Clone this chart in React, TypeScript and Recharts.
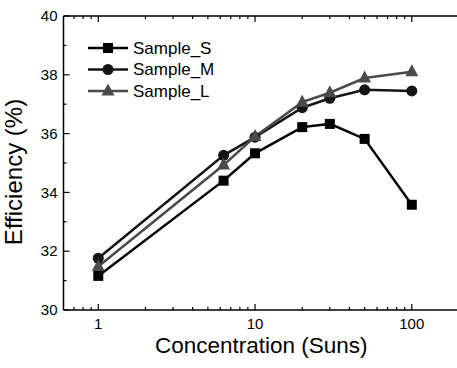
import { Legend, Line, LineChart, XAxis, YAxis } from "recharts"

const concentration = [1, 6.3, 10, 20, 30, 50, 100]
const sampleS = [31.16, 34.4, 35.33, 36.22, 36.33, 35.82, 33.58]
const sampleM = [31.76, 35.26, 35.88, 36.88, 37.2, 37.49, 37.45]
const sampleL = [31.48, 34.93, 35.9, 37.07, 37.39, 37.89, 38.1]

const xMajor = [1, 10, 100]
const xMinor = [0.7, 0.8, 0.9, 2, 3, 4, 5, 6, 7, 8, 9, 20, 30, 40, 50, 60, 70, 80, 90]
const yMajor = [30, 32, 34, 36, 38, 40]
const yMinor = [31, 33, 35, 37, 39]

const font = "Arial, 'Liberation Sans', sans-serif"

const series = [
  { key: "S", name: "Sample_S", color: "#000000", shape: "square" },
  { key: "M", name: "Sample_M", color: "#151515", shape: "circle" },
  { key: "L", name: "Sample_L", color: "#4a4a4a", shape: "triangle" },
]

const data = concentration.map((c, i) => ({ x: c, S: sampleS[i], M: sampleM[i], L: sampleL[i] }))

function Marker({ cx, cy, shape, color }: { cx: number; cy: number; shape: string; color: string }) {
  if (shape === "square") return <rect x={cx - 5} y={cy - 5} width={10} height={10} fill={color} />
  if (shape === "circle") return <circle cx={cx} cy={cy} r={5.5} fill={color} />
  return <polygon points={`${cx},${cy - 7.5} ${cx - 6.5},${cy + 4.5} ${cx + 6.5},${cy + 4.5}`} fill={color} />
}

const tickLen = (v: number, major: number[]) => (major.includes(v) ? 6 : 3)

const BottomTick = ({ x, y, payload }: any) => {
  const v = payload.value
  return (
    <g>
      <line x1={x} x2={x} y1={y} y2={y - tickLen(v, xMajor)} stroke="#000" strokeWidth={1.2} />
      {xMajor.includes(v) && (
        <text x={x} y={y + 19} textAnchor="middle" fontSize={15} fontFamily={font} fill="#000">{v}</text>
      )}
    </g>
  )
}

const TopTick = ({ x, y, payload }: any) => (
  <line x1={x} x2={x} y1={y} y2={y + tickLen(payload.value, xMajor)} stroke="#000" strokeWidth={1.2} />
)

const LeftTick = ({ x, y, payload }: any) => {
  const v = payload.value
  return (
    <g>
      <line x1={x} x2={x + tickLen(v, yMajor)} y1={y} y2={y} stroke="#000" strokeWidth={1.2} />
      {yMajor.includes(v) && (
        <text x={x - 6} y={y} dy="0.35em" textAnchor="end" fontSize={15} fontFamily={font} fill="#000">{v}</text>
      )}
    </g>
  )
}

const RightTick = ({ x, y, payload }: any) => (
  <line x1={x} x2={x - tickLen(payload.value, yMajor)} y1={y} y2={y} stroke="#000" strokeWidth={1.2} />
)

const LegendBox = () => (
  <svg width={160} height={70}>
    {series.map((s, i) => {
      const cy = 12 + i * 21.5
      return (
        <g key={s.key}>
          <line x1={4} x2={44} y1={cy} y2={cy} stroke={s.color} strokeWidth={2.5} />
          <Marker cx={24} cy={cy} shape={s.shape} color={s.color} />
          <text x={49} y={cy} dy="0.35em" fontSize={17} fontFamily={font} fill="#000">{s.name}</text>
        </g>
      )
    })}
  </svg>
)

export default function App() {
  return (
    <div style={{ position: "absolute", left: 0, top: 0, width: 457, height: 368, overflow: "hidden", background: "#fff" }}>
      <LineChart width={470} height={368} data={data} margin={{ top: 6, right: 1, bottom: 0, left: 0 }}>
        <XAxis
          xAxisId="b"
          dataKey="x"
          type="number"
          scale="log"
          domain={[0.6, 200]}
          allowDataOverflow
          ticks={[...xMajor, ...xMinor]}
          interval={0}
          height={58}
          tickSize={0}
          tickMargin={0}
          tickLine={false}
          tick={<BottomTick />}
          axisLine={{ stroke: "#000", strokeWidth: 1.5 }}
          label={{ value: "Concentration (Suns)", position: "insideBottom", offset: 15, fontSize: 22.5, fontFamily: font, fill: "#000" }}
        />
        <XAxis
          xAxisId="t"
          orientation="top"
          dataKey="x"
          type="number"
          scale="log"
          domain={[0.6, 200]}
          allowDataOverflow
          ticks={[...xMajor, ...xMinor]}
          interval={0}
          height={10}
          tickSize={0}
          tickMargin={0}
          tickLine={false}
          tick={<TopTick />}
          axisLine={{ stroke: "#000", strokeWidth: 1.5 }}
        />
        <YAxis
          yAxisId="l"
          type="number"
          domain={[30, 40]}
          ticks={[...yMajor, ...yMinor]}
          interval={0}
          width={63.5}
          tickSize={0}
          tickMargin={0}
          tickLine={false}
          tick={<LeftTick />}
          axisLine={{ stroke: "#000", strokeWidth: 1.5 }}
          label={{
            content: ({ viewBox }: any) => (
              <text
                x={viewBox.x + 22}
                y={viewBox.y + viewBox.height / 2 + 9}
                transform={`rotate(-90, ${viewBox.x + 22}, ${viewBox.y + viewBox.height / 2 + 9})`}
                textAnchor="middle"
                fontSize={24}
                fontFamily={font}
                fill="#000"
              >
                Efficiency (%)
              </text>
            ),
          }}
        />
        <YAxis
          yAxisId="r"
          orientation="right"
          type="number"
          domain={[30, 40]}
          ticks={[...yMajor, ...yMinor]}
          interval={0}
          width={10}
          tickSize={0}
          tickMargin={0}
          tickLine={false}
          tick={<RightTick />}
          axisLine={{ stroke: "#000", strokeWidth: 1.5 }}
        />
        <Legend
          layout="vertical"
          align="center"
          verticalAlign="middle"
          content={<LegendBox />}
          wrapperStyle={{ left: 84, top: 36, width: 160 }}
        />
        {series.map((s) => (
          <Line
            key={s.key}
            xAxisId="b"
            yAxisId="l"
            dataKey={s.key}
            name={s.name}
            stroke={s.color}
            strokeWidth={2.5}
            isAnimationActive={false}
            dot={(p: any) => <Marker key={`${s.key}-${p.index}`} cx={p.cx} cy={p.cy} shape={s.shape} color={s.color} />}
            activeDot={false}
          />
        ))}
      </LineChart>
    </div>
  )
}
